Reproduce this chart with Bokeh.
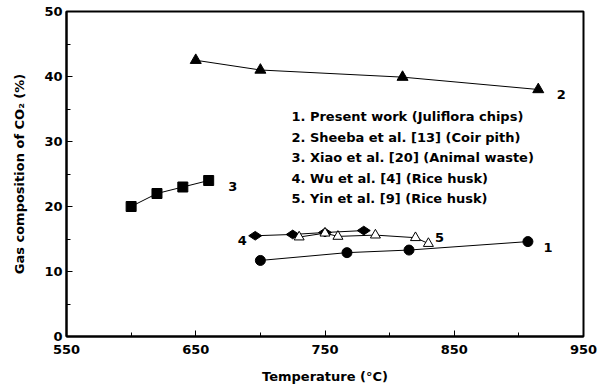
from bokeh.plotting import figure
from bokeh.models import FixedTicker, Range1d, Label
from bokeh.embed import file_html
from bokeh.resources import INLINE
import math

# ---- data ----
t1 = [700, 767, 815, 907]
v1 = [11.7, 12.9, 13.3, 14.6]
t2 = [650, 700, 810, 915]
v2 = [42.5, 41.0, 39.9, 38.0]
t3 = [600, 620, 640, 660]
v3 = [20.0, 22.0, 23.0, 24.0]
t4 = [696, 725, 750, 780]
v4 = [15.5, 15.7, 16.0, 16.3]
t5 = [730, 750, 760, 789, 820, 830]
v5 = [15.3, 15.9, 15.4, 15.6, 15.2, 14.3]

legend_lines = [
    "1. Present work (Juliflora chips)",
    "2. Sheeba et al. [13] (Coir pith)",
    "3. Xiao et al. [20] (Animal waste)",
    "4. Wu et al. [4] (Rice husk)",
    "5. Yin et al. [9] (Rice husk)",
]
x_ticks = [550, 650, 750, 850, 950]
x_minor = [600, 700, 800, 900]
y_ticks = [0, 10, 20, 30, 40, 50]
y_minor = [5, 15, 25, 35, 45]

FONT = "DejaVu Sans"

p = figure(width=606, height=389, output_backend="svg", toolbar_location=None,
           x_range=Range1d(550, 950), y_range=Range1d(0, 50),
           min_border_left=66, min_border_right=23, min_border_top=11, min_border_bottom=53)
p.grid.visible = False
p.background_fill_color = "white"
p.border_fill_color = "white"
p.outline_line_color = "black"
p.outline_line_width = 2

for ax in (p.xaxis[0], p.yaxis[0]):
    ax.axis_line_width = 2
    ax.axis_line_color = "black"
    ax.major_tick_in = 6
    ax.major_tick_out = 0
    ax.minor_tick_in = 4
    ax.minor_tick_out = 0
    ax.major_tick_line_width = 1
    ax.minor_tick_line_width = 1
    ax.major_tick_line_color = "black"
    ax.minor_tick_line_color = "black"
    ax.major_label_text_font = FONT
    ax.major_label_text_font_style = "bold"
    ax.major_label_text_font_size = "13px"
    ax.major_label_text_color = "black"
    ax.axis_label_text_font = FONT
    ax.axis_label_text_font_style = "bold"
    ax.axis_label_text_font_size = "13px"
    ax.axis_label_text_color = "black"

p.xaxis.ticker = FixedTicker(ticks=x_ticks, minor_ticks=x_minor)
p.yaxis.ticker = FixedTicker(ticks=y_ticks, minor_ticks=y_minor)
p.xaxis.axis_label = "Temperature (°C)"
p.yaxis.axis_label = "Gas composition of CO₂ (%)"
p.xaxis.major_label_standoff = 8
p.xaxis.axis_label_standoff = 12
p.yaxis.major_label_standoff = 4
p.yaxis.axis_label_standoff = 14

# lines
for t, v in ((t1, v1), (t2, v2), (t3, v3), (t4, v4), (t5, v5)):
    p.line(t, v, line_color="black", line_width=1)

p.scatter(t1, v1, marker="circle", size=10, fill_color="black", line_color="black")
p.scatter(t2, v2, marker="triangle", size=11, fill_color="black", line_color="black")
p.scatter(t3, v3, marker="square", size=10, fill_color="black", line_color="black")
p.scatter(t4, v4, marker="diamond", size=13, angle=math.pi / 2,
          fill_color="black", line_color="black")
p.scatter(t5, v5, marker="triangle", size=10, fill_color="white", line_color="black",
          line_width=1)

# series number labels (positioned relative to series end points)
num_specs = [
    ("1", t1[-1], v1[-1], 20, 6),
    ("2", t2[-1], v2[-1], 23, 5),
    ("3", t3[-1], v3[-1], 24, 6),
    ("4", t4[0], v4[0], -13, 5),
    ("5", t5[-1], v5[-1], 11, -6),
]
for txt, x, y, dx, dy in num_specs:
    p.add_layout(Label(x=x, y=y, text=txt, x_offset=dx, y_offset=-dy,
                       text_font=FONT, text_font_style="bold", text_font_size="13px",
                       text_align="center", text_baseline="middle", text_color="black"))

# text legend block
leg_x = 724
leg_y0 = 33.8
leg_step = 3.15
for i, line in enumerate(legend_lines):
    p.add_layout(Label(x=leg_x, y=leg_y0 - i * leg_step, text=line,
                       text_font=FONT, text_font_style="bold", text_font_size="13px",
                       text_align="left", text_baseline="middle", text_color="black"))

open("out.html", "w").write(file_html(p, INLINE))
